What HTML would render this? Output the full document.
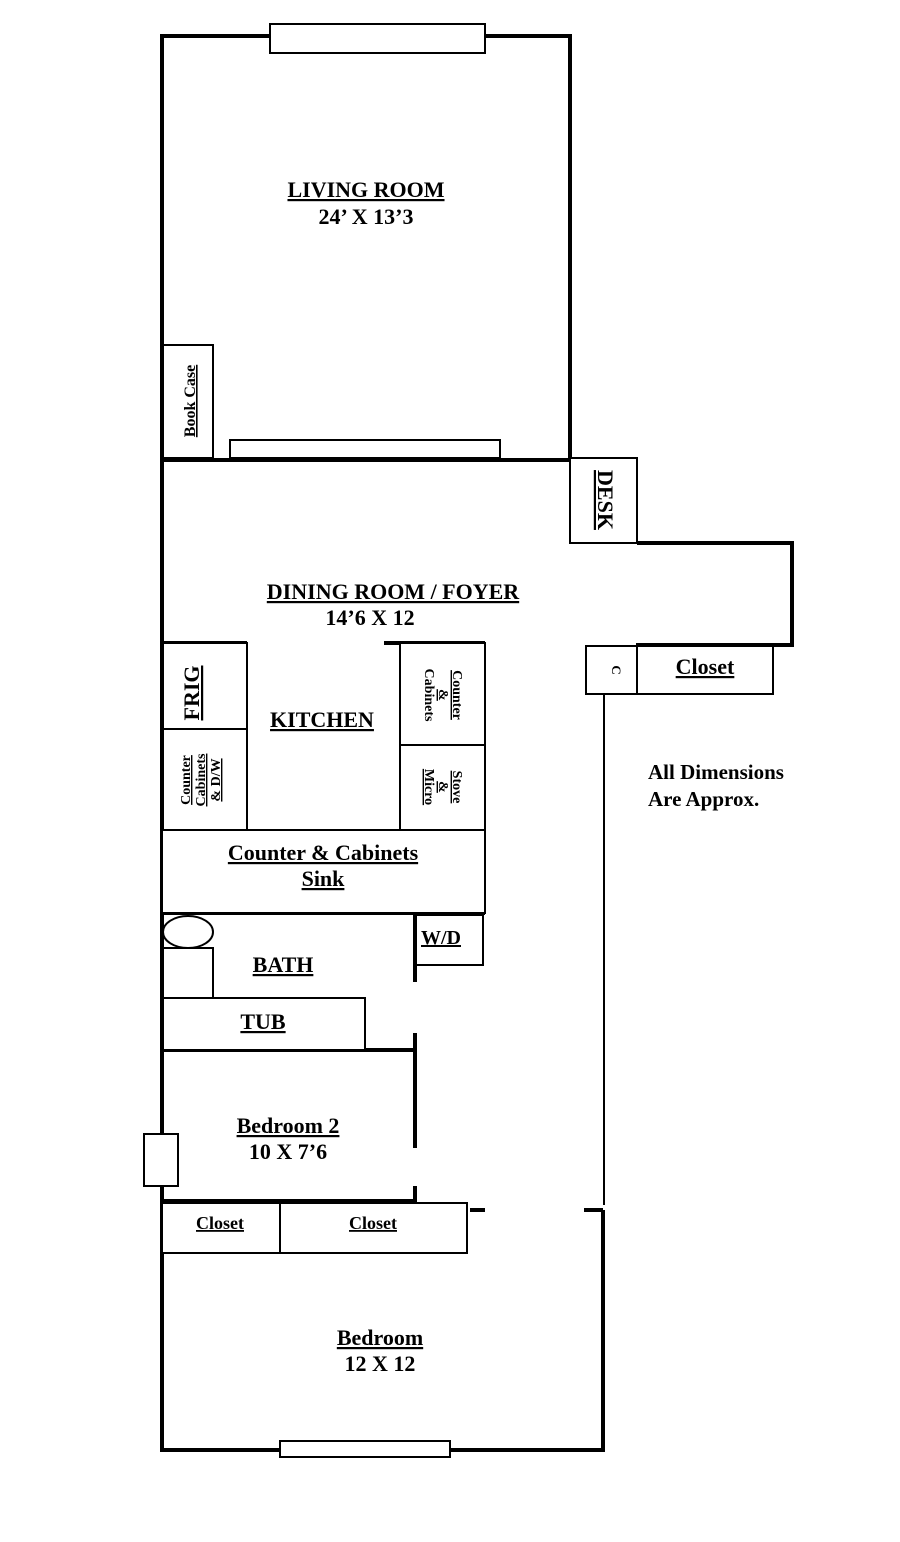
<!DOCTYPE html>
<html><head><style>body{margin:0;background:#fff}svg{display:block}text{font-family:"Liberation Serif",serif;font-weight:bold;fill:#000;text-decoration:underline}</style></head>
<body>
<svg width="900" height="1542" viewBox="0 0 900 1542" xmlns="http://www.w3.org/2000/svg">
<g stroke="#000" fill="none">
<g stroke-width="4">
<path d="M162 36 H570 V460 H162 Z"/>
<path d="M162 460 V1450 H603 V1210"/>
<path d="M637 543 H792 V645 H636"/>
<path d="M162 643 H247 M384 643 H485"/>
<path d="M162 913 H485"/>
<path d="M415 915 V982 M415 1033 V1148 M415 1186 V1202"/>
<path d="M162 1050 H415 M162 1201 H415"/>
<path d="M470 1210 H485 M584 1210 H603"/>
</g>
<g stroke-width="2" fill="#fff">
<rect x="270" y="24" width="215" height="29"/>
<rect x="163" y="345" width="50" height="113"/>
<rect x="230" y="440" width="270" height="18"/>
<rect x="570" y="458" width="67" height="85"/>
<rect x="586" y="646" width="51" height="48"/>
<rect x="637" y="646" width="136" height="48"/>
<path d="M604 694 V1205"/>
<rect x="163" y="643" width="84" height="86"/>
<rect x="163" y="729" width="84" height="101"/>
<rect x="400" y="643" width="85" height="102"/>
<rect x="400" y="745" width="85" height="85"/>
<rect x="162" y="830" width="323" height="83"/>
<ellipse cx="188" cy="932" rx="25" ry="16"/>
<rect x="163" y="948" width="50" height="50"/>
<rect x="416" y="915" width="67" height="50"/>
<rect x="163" y="998" width="202" height="52"/>
<rect x="144" y="1134" width="34" height="52"/>
<rect x="162" y="1203" width="118" height="50"/>
<rect x="280" y="1203" width="187" height="50"/>
<rect x="280" y="1441" width="170" height="16"/>
</g>
</g>
<text x="366" y="197" font-size="22" text-anchor="middle">LIVING ROOM</text>
<text x="366" y="224" font-size="22" text-anchor="middle" style="text-decoration:none">24’ X 13’3</text>
<text transform="translate(195 401) rotate(-90)" font-size="16" text-anchor="middle">Book Case</text>
<text transform="translate(598 500) rotate(90)" font-size="22" text-anchor="middle">DESK</text>
<text x="393" y="599" font-size="22" text-anchor="middle">DINING ROOM / FOYER</text>
<text x="370" y="625" font-size="22" text-anchor="middle" style="text-decoration:none">14’6 X 12</text>
<text transform="translate(612 670) rotate(90)" font-size="13" text-anchor="middle" style="text-decoration:none">C</text>
<text x="705" y="674" font-size="22" text-anchor="middle">Closet</text>
<text transform="translate(199 693) rotate(-90)" font-size="22" text-anchor="middle">FRIG</text>
<text x="322" y="727" font-size="22" text-anchor="middle">KITCHEN</text>
<text transform="translate(190 780) rotate(-90)" font-size="14" text-anchor="middle">Counter</text>
<text transform="translate(205 780) rotate(-90)" font-size="14" text-anchor="middle">Cabinets</text>
<text transform="translate(220 780) rotate(-90)" font-size="14" text-anchor="middle">&amp; D/W</text>
<text transform="translate(453 695) rotate(90)" font-size="14" text-anchor="middle">Counter</text>
<text transform="translate(439 695) rotate(90)" font-size="14" text-anchor="middle">&amp;</text>
<text transform="translate(425 695) rotate(90)" font-size="14" text-anchor="middle" style="text-decoration:none">Cabinets</text>
<text transform="translate(453 787) rotate(90)" font-size="14" text-anchor="middle">Stove</text>
<text transform="translate(439 787) rotate(90)" font-size="14" text-anchor="middle">&amp;</text>
<text transform="translate(425 787) rotate(90)" font-size="14" text-anchor="middle">Micro</text>
<text x="648" y="779" font-size="21" style="text-decoration:none">All Dimensions</text>
<text x="648" y="806" font-size="21" style="text-decoration:none">Are Approx.</text>
<text x="323" y="860" font-size="22" text-anchor="middle">Counter &amp; Cabinets</text>
<text x="323" y="886" font-size="22" text-anchor="middle">Sink</text>
<text x="441" y="944" font-size="20" text-anchor="middle">W/D</text>
<text x="283" y="972" font-size="22" text-anchor="middle">BATH</text>
<text x="263" y="1029" font-size="22" text-anchor="middle">TUB</text>
<text x="288" y="1133" font-size="22" text-anchor="middle">Bedroom 2</text>
<text x="288" y="1159" font-size="22" text-anchor="middle" style="text-decoration:none">10 X 7’6</text>
<text x="220" y="1229" font-size="18" text-anchor="middle">Closet</text>
<text x="373" y="1229" font-size="18" text-anchor="middle">Closet</text>
<text x="380" y="1345" font-size="22" text-anchor="middle">Bedroom</text>
<text x="380" y="1371" font-size="22" text-anchor="middle" style="text-decoration:none">12 X 12</text>
</svg>
</body></html>
